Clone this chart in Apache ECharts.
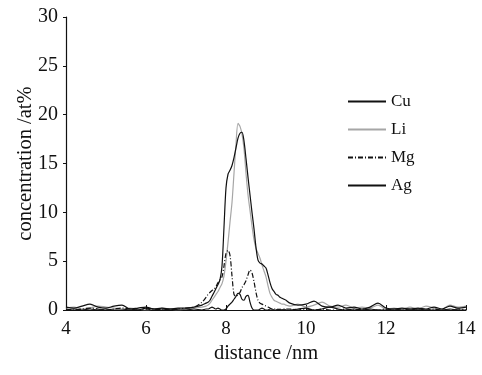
<!DOCTYPE html>
<html><head><meta charset="utf-8">
<script src="https://cdn.jsdelivr.net/npm/echarts@6/dist/echarts.min.js"></script>
<style>html,body{margin:0;padding:0;background:#fff}#c{width:482px;height:375px}</style>
</head><body><div id="c"></div>
<script>
const distance = [4.0,4.2,4.4,4.6,4.8,5.0,5.2,5.4,5.6,5.8,6.0,6.2,6.4,6.6,6.8,7.0,7.2,7.4,
 7.5,7.55,7.6,7.65,7.7,7.75,7.8,7.85,7.9,7.95,8.0,8.05,8.1,8.15,8.2,8.25,8.3,8.35,8.4,8.45,8.5,8.55,8.6,8.65,8.7,8.75,8.8,8.85,8.9,8.95,9.0,9.05,9.1,9.15,9.2,9.25,9.3,9.35,9.4,9.45,9.5,
 9.6,9.8,10.0,10.2,10.4,10.6,10.8,11.0,11.2,11.4,11.6,11.8,12.0,12.2,12.4,12.6,12.8,13.0,13.2,13.4,13.6,13.8,14.0];
const cu = [0.3,0.2,0.4,0.6,0.3,0.2,0.4,0.5,0.1,0.2,0.3,0.1,0.2,0.1,0.2,0.2,0.3,0.5,
 0.7,0.8,1.0,1.4,1.8,2.2,2.6,3.1,4.5,8.5,12.5,13.9,14.3,14.8,15.6,16.6,17.6,18.1,18.2,17.3,15.5,13.6,11.8,10.0,8.3,6.4,5.1,4.8,4.7,4.5,4.3,3.6,2.8,2.2,1.9,1.6,1.5,1.3,1.2,1.1,1.0,
 0.7,0.5,0.6,0.9,0.4,0.3,0.5,0.2,0.3,0.1,0.3,0.7,0.2,0.1,0.2,0.1,0.2,0.1,0.3,0.1,0.4,0.2,0.3];
const li = [0.2,0.3,0.1,0.2,0.4,0.3,0.2,0.1,0.2,0.1,0.0,0.1,0.2,0.1,0.0,0.1,0.2,0.3,
 0.4,0.5,0.7,1.0,1.3,1.6,1.9,2.3,2.7,3.5,5.0,6.9,9.0,11.0,14.0,17.0,19.1,18.8,18.0,16.5,14.0,11.8,10.2,8.6,7.2,6.3,5.8,5.3,4.6,4.0,3.4,2.5,1.7,1.3,1.0,0.9,0.8,0.7,0.6,0.6,0.5,
 0.4,0.6,0.3,0.5,0.8,0.4,0.3,0.5,0.2,0.3,0.2,0.5,0.1,0.2,0.1,0.3,0.1,0.4,0.2,0.1,0.5,0.3,0.4];
const mg = [0.1,0.0,0.1,0.2,0.1,0.0,0.1,0.2,0.1,0.0,0.1,0.0,0.1,0.0,0.1,0.2,0.3,0.8,
 1.3,1.6,1.8,2.0,2.1,2.4,2.8,3.1,3.4,4.5,5.8,6.1,5.6,3.5,1.6,1.4,1.6,1.8,2.3,2.6,3.0,3.6,4.1,3.8,2.9,1.8,1.0,0.7,0.6,0.5,0.4,0.3,0.2,0.1,0.1,0.1,0.0,0.1,0.0,0.0,0.1,
 0.1,0.0,0.1,0.0,0.1,0.0,0.0,0.1,0.0,0.1,0.0,0.0,0.1,0.0,0.0,0.1,0.0,0.0,0.1,0.0,0.0,0.1,0.0];
const ag = [0.0,0.1,0.0,0.1,0.0,0.1,0.0,0.0,0.1,0.0,0.2,0.1,0.0,0.1,0.0,0.0,0.1,0.0,
 0.1,0.1,0.2,0.3,0.2,0.1,0.2,0.1,0.0,0.0,0.1,0.4,0.6,0.8,1.1,1.4,1.7,1.6,1.1,1.0,1.4,1.5,0.8,0.2,0.0,0.0,0.0,0.1,0.2,0.1,0.0,0.0,0.1,0.1,0.0,0.0,0.1,0.0,0.0,0.1,0.0,
 0.0,0.1,0.2,0.0,0.1,0.3,0.1,0.0,0.1,0.0,0.1,0.0,0.0,0.1,0.0,0.0,0.1,0.0,0.0,0.0,0.1,0.0,0.0];
const seriesNames = ['Cu','Li','Mg','Ag'];
const xTicks = [4,6,8,10,12,14];
const yTicks = [0,5,10,15,20,25,30];

const font = '"Liberation Serif","DejaVu Serif",serif';
function pairs(ys){ return distance.map((x,i)=>[x, ys[i]]); }
const styles = [
  {color:'#111', type:'solid'},
  {color:'#a6a6a6', type:'solid'},
  {color:'#111', type:[5,2,1,2]},
  {color:'#111', type:'solid'}
];
const all = [cu, li, mg, ag];
const chart = echarts.init(document.getElementById('c'), null, {renderer:'canvas'});
chart.setOption({
  animation:false,
  backgroundColor:'#fff',
  grid:{left:66, right:16, top:17, bottom:65, containLabel:false, outerBoundsMode:'none'},
  legend:{
    orient:'vertical', left:342, top:88, itemWidth:38, itemHeight:14, itemGap:11,
    itemStyle:{opacity:0},
    textStyle:{fontFamily:font, fontSize:17, color:'#111'},
    data: seriesNames
  },
  xAxis:{
    type:'value', min:xTicks[0], max:xTicks[xTicks.length-1], interval:2,
    name:'distance /nm', nameLocation:'middle', nameGap:33, nameMoveOverlap:false,
    nameTextStyle:{fontFamily:font, fontSize:20.5, color:'#111'},
    axisLine:{lineStyle:{color:'#111', width:1.2}},
    axisTick:{inside:true, length:5, lineStyle:{color:'#111'}},
    axisLabel:{fontFamily:font, fontSize:19, color:'#111', margin:10},
    splitLine:{show:false}
  },
  yAxis:{
    type:'value', min:yTicks[0], max:yTicks[yTicks.length-1], interval:5,
    name:'concentration /at%', nameLocation:'middle', nameGap:30, nameMoveOverlap:false,
    nameTextStyle:{fontFamily:font, fontSize:20.5, color:'#111'},
    axisLine:{show:true, lineStyle:{color:'#111', width:1.2}},
    axisTick:{show:true, inside:false, length:3, lineStyle:{color:'#111'}},
    axisLabel:{fontFamily:font, fontSize:20, color:'#111', margin:8},
    splitLine:{show:false}
  },
  series: seriesNames.map((n,i)=>({
    name:n, type:'line', data:pairs(all[i]), smooth:0.3, showSymbol:false, symbol:'none',
    lineStyle:{color:styles[i].color, width:1.2, type:styles[i].type},
    itemStyle:{color:styles[i].color},
    z: i===1 ? 1 : 2
  }))
});
</script></body></html>
